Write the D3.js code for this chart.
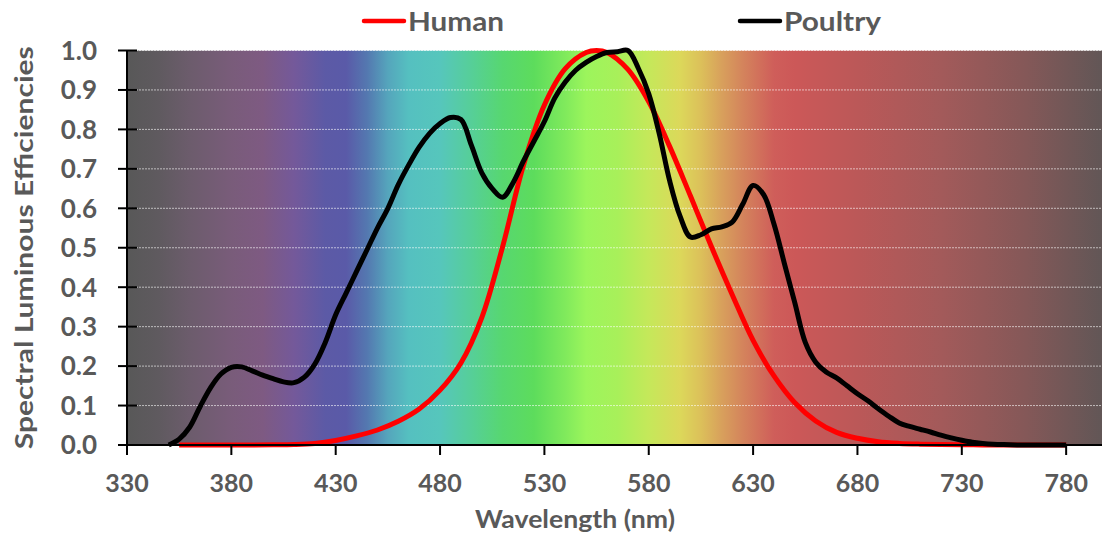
<!DOCTYPE html>
<html>
<head>
<meta charset="utf-8">
<script src="https://cdn.jsdelivr.net/npm/d3@7/dist/d3.min.js"></script>
<style>
  html, body { margin: 0; padding: 0; background: #fff; }
  svg { display: block; }
  text { font-family: Lato, "Open Sans", sans-serif; font-weight: 700; fill: #595959; }
</style>
</head>
<body>
<svg id="chart" width="1102" height="538"></svg>
<script>
// Wavelength samples (nm) and luminous efficiency for the human eye (photopic V(λ))
const humanWavelengths = [355, 360, 370, 380, 390, 400, 410, 420, 430, 440, 450, 460, 470, 480, 490, 500,
  510, 520, 530, 540, 550, 555, 560, 570, 580, 590, 600, 610, 620, 630, 640, 650, 660, 670, 680,
  690, 700, 710, 720, 730, 740, 750, 760, 770, 780];
const humanValues = [0, 0.000004, 0.000012, 0.000039, 0.00012, 0.0004, 0.0012, 0.004, 0.0116, 0.023, 0.038,
  0.06, 0.091, 0.139, 0.208, 0.323, 0.503, 0.71, 0.862, 0.954, 0.995, 1.0, 0.995, 0.952, 0.87, 0.757,
  0.631, 0.503, 0.381, 0.265, 0.175, 0.107, 0.061, 0.032, 0.017, 0.0082, 0.0041, 0.0021, 0.001,
  0.0005, 0.00025, 0.00012, 0.00006, 0.00003, 0.000015];

// Wavelength samples (nm) and luminous efficiency for poultry
const poultryWavelengths = [350, 355, 360, 365, 370, 375, 380, 385, 390, 395, 400, 405, 410, 415, 420, 425,
  430, 435, 440, 445, 450, 455, 460, 465, 470, 475, 480, 485, 490, 495, 500, 505, 510, 515, 520, 525,
  530, 535, 540, 545, 550, 555, 560, 565, 570, 575, 580, 585, 590, 595, 600, 605, 610, 615, 620, 625,
  630, 635, 640, 645, 650, 655, 660, 665, 670, 675, 680, 685, 690, 695, 700, 705, 710, 715, 720, 725,
  730, 735, 740, 745, 750, 760, 770, 780];
const poultryValues = [0, 0.015, 0.045, 0.097, 0.145, 0.18, 0.197, 0.198, 0.188, 0.177, 0.168, 0.16, 0.158,
  0.172, 0.205, 0.26, 0.33, 0.385, 0.44, 0.495, 0.55, 0.6, 0.66, 0.71, 0.755, 0.79, 0.815, 0.83, 0.825,
  0.76, 0.69, 0.65, 0.628, 0.665, 0.72, 0.77, 0.82, 0.88, 0.92, 0.95, 0.97, 0.985, 0.995, 0.997, 1.0,
  0.955, 0.89, 0.79, 0.67, 0.58, 0.527, 0.533, 0.548, 0.553, 0.565, 0.61, 0.658, 0.635, 0.56, 0.46, 0.36,
  0.26, 0.21, 0.185, 0.17, 0.15, 0.13, 0.112, 0.092, 0.073, 0.056, 0.047, 0.04, 0.033, 0.025, 0.018,
  0.012, 0.007, 0.004, 0.002, 0.001, 0, 0, 0];

// Axis ticks
const xTicks = [330, 380, 430, 480, 530, 580, 630, 680, 730, 780];
const yTicks = [0, 0.1, 0.2, 0.3, 0.4, 0.5, 0.6, 0.7, 0.8, 0.9, 1.0];

// Background spectrum: wavelength stops and their colours
const spectrumStops = [330, 345, 360, 380, 395, 410, 425, 435, 445, 455, 465, 480, 495, 510, 525, 540,
  550, 565, 580, 595, 605, 615, 625, 640, 650, 680, 720, 760, 800];
const spectrumColors = ["#585858", "#5f5a5f", "#6c5c6c", "#795c7a", "#7e5a82", "#74599a", "#5c5aa6",
  "#5a5aa8", "#5478b0", "#55a5bc", "#55c0c0", "#56c6bc", "#56cf98", "#57d770", "#5ddc5c", "#80ea5c",
  "#9cf55c", "#a8f05a", "#c5e85a", "#dcd85a", "#dcc05a", "#d8a05c", "#d4845c", "#cf5e5a", "#cc5858",
  "#bb5858", "#a35a5a", "#855858", "#5f5656"];

const seriesNames = ["Human", "Poultry"];
const seriesColors = ["#ff0000", "#000000"];

const svg = d3.select("#chart");
const W = 1102, H = 538;
const margin = { left: 127, top: 50.5, bottom: 93 };

const x = d3.scaleLinear().domain([330, 800]).range([margin.left, margin.left + 470 * 2.087]);
const y = d3.scaleLinear().domain([0, 1]).range([H - margin.bottom, margin.top]);

const defs = svg.append("defs");
const grad = defs.append("linearGradient")
  .attr("id", "spectrum")
  .attr("gradientUnits", "userSpaceOnUse")
  .attr("x1", x(330)).attr("x2", x(800)).attr("y1", 0).attr("y2", 0);
spectrumStops.forEach((w, i) => {
  grad.append("stop")
    .attr("offset", (w - 330) / (800 - 330))
    .attr("stop-color", spectrumColors[i]);
});

// Plot background
svg.append("rect")
  .attr("x", x(330)).attr("y", y(1))
  .attr("width", x(800) - x(330)).attr("height", y(0) - y(1))
  .attr("fill", "url(#spectrum)");

// Horizontal gridlines
svg.append("g").selectAll("line")
  .data(yTicks.filter(d => d > 0))
  .join("line")
  .attr("x1", x(330)).attr("x2", W)
  .attr("y1", d => y(d)).attr("y2", d => y(d))
  .attr("stroke", "rgba(255,255,255,0.6)")
  .attr("stroke-width", 1)
  .attr("stroke-dasharray", "2,1");

// Smooth curves through the sampled points
const line = d3.line().curve(d3.curveCatmullRom.alpha(0.5));
const humanPts = humanWavelengths.map((w, i) => [x(w), y(humanValues[i])]);
const poultryPts = poultryWavelengths.map((w, i) => [x(w), y(poultryValues[i])]);

svg.append("path")
  .attr("d", line(humanPts))
  .attr("fill", "none")
  .attr("stroke", seriesColors[0])
  .attr("stroke-width", 5)
  .attr("stroke-linejoin", "round");

svg.append("path")
  .attr("d", line(poultryPts))
  .attr("fill", "none")
  .attr("stroke", seriesColors[1])
  .attr("stroke-width", 5)
  .attr("stroke-linejoin", "round");

// Y axis
const yAxis = svg.append("g").attr("transform", `translate(${x(330)},0)`);
yAxis.append("line")
  .attr("x1", 0).attr("x2", 0).attr("y1", y(1)).attr("y2", y(0) + 10)
  .attr("stroke", "#000").attr("stroke-width", 2);
yAxis.selectAll("line.tick")
  .data(yTicks).join("line").attr("class", "tick")
  .attr("x1", -9).attr("x2", 10)
  .attr("y1", d => y(d)).attr("y2", d => y(d))
  .attr("stroke", "#000").attr("stroke-width", 2);
yAxis.selectAll("text")
  .data(yTicks).join("text")
  .attr("x", -30).attr("y", d => y(d))
  .attr("dy", "0.36em")
  .attr("text-anchor", "end")
  .attr("font-size", 26)
  .text(d => d3.format(".1f")(d));

// X axis
const xAxis = svg.append("g").attr("transform", `translate(0,${y(0)})`);
xAxis.append("line")
  .attr("x1", x(330)).attr("x2", W).attr("y1", 0).attr("y2", 0)
  .attr("stroke", "#000").attr("stroke-width", 2);
xAxis.selectAll("line.tick")
  .data(xTicks).join("line").attr("class", "tick")
  .attr("x1", d => x(d)).attr("x2", d => x(d))
  .attr("y1", 0).attr("y2", 10)
  .attr("stroke", "#000").attr("stroke-width", 2);
xAxis.selectAll("text")
  .data(xTicks).join("text")
  .attr("x", d => x(d)).attr("y", 47)
  .attr("text-anchor", "middle")
  .attr("font-size", 25)
  .text(d => d);

// Axis titles
svg.append("text")
  .attr("transform", `translate(33,${y(0.5)}) rotate(-90)`)
  .attr("text-anchor", "middle")
  .attr("font-size", 25)
  .attr("textLength", 403)
  .attr("lengthAdjust", "spacingAndGlyphs")
  .text("Spectral Luminous Efficiencies");

svg.append("text")
  .attr("x", 575).attr("y", 528)
  .attr("text-anchor", "middle")
  .attr("font-size", 25)
  .attr("textLength", 200)
  .attr("lengthAdjust", "spacingAndGlyphs")
  .text("Wavelength (nm)");

// Legend
const legendX = [364, 740];
const legendW = [96, 97];
seriesNames.forEach((name, i) => {
  const g = svg.append("g").attr("transform", `translate(${legendX[i]},21)`);
  g.append("line")
    .attr("x1", 0).attr("x2", 40).attr("y1", 0).attr("y2", 0)
    .attr("stroke", seriesColors[i]).attr("stroke-width", 4.5)
    .attr("stroke-linecap", "round");
  g.append("text")
    .attr("x", 44).attr("y", 10)
    .attr("font-size", 27)
    .attr("textLength", legendW[i])
    .attr("lengthAdjust", "spacingAndGlyphs")
    .text(name);
});
</script>
</body>
</html>
